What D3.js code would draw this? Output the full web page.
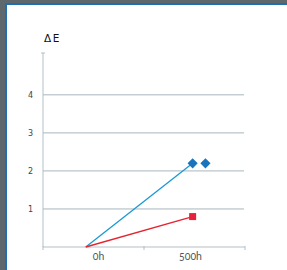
<!DOCTYPE html>
<html>
<head>
<meta charset="utf-8">
<script src="https://cdn.jsdelivr.net/npm/d3@7"></script>
<style>
  body { margin: 0; background: #5e676b; }
  #chart { position: absolute; left: 0; top: 0; }
  .xlab { font-feature-settings: 'onum' 1; font-variant-numeric: oldstyle-nums; }
</style>
</head>
<body>
<div id="chart"></div>
<script>
// categories on the x axis and the y ticks
const categories = ['0h', '500h'];
const yTicks = [1, 2, 3, 4];
// hours / delta E per series
const blueHours = [0, 500];
const blueValues = [0, 2.2];
const blueExtraHours = [560];
const blueExtraValues = [2.2];
const redHours = [0, 500];
const redValues = [0, 0.8];

const W = 287, H = 270;
const margin = { top: 53, right: 42, bottom: 23, left: 43 },
    width = W - margin.left - margin.right,
    height = H - margin.top - margin.bottom;

const svg = d3.select('#chart').append('svg')
    .attr('width', W).attr('height', H);

// white panel with blue edge
svg.append('rect').attr('x', 5).attr('y', 3).attr('width', W - 5).attr('height', H - 3).attr('fill', '#1f6fb0');
svg.append('rect').attr('x', 7).attr('y', 5).attr('width', W - 7).attr('height', H - 5).attr('fill', '#fff');

const g = svg.append('g').attr('transform', 'translate(' + margin.left + ',' + margin.top + ')');

let xBand = d3.scaleBand().domain(categories).range([0, width]);
let xh = d3.scaleLinear().domain([-200, 745]).range([0, width]);
let y = d3.scaleLinear().domain([0, 5.1]).range([height, 0]);

// grid
g.selectAll('.grid').data(yTicks).enter().append('line')
    .attr('x1', 0).attr('x2', width - 1)
    .attr('y1', d => y(d)).attr('y2', d => y(d))
    .attr('stroke', '#a7b6bd').attr('stroke-width', 1);

// y axis
g.append('line').attr('x1', 0).attr('x2', 0).attr('y1', 0).attr('y2', height)
    .attr('stroke', '#b3c0c6').attr('stroke-width', 1);
g.append('line').attr('x1', -2).attr('x2', 2).attr('y1', 0).attr('y2', 0)
    .attr('stroke', '#b3c0c6');
g.selectAll('.ylab').data(yTicks).enter().append('text')
    .attr('x', -10).attr('y', d => y(d)).attr('dy', '0.35em')
    .attr('text-anchor', 'end')
    .attr('font-family', 'DejaVu Sans').attr('font-size', 8)
    .attr('fill', '#444').text(d => d);

// x axis
g.append('line').attr('x1', 0).attr('x2', width).attr('y1', height).attr('y2', height)
    .attr('stroke', '#b3c0c6').attr('stroke-width', 1.2);
const edges = categories.map(c => xBand(c)).concat([width]);
g.selectAll('.xtick').data(edges).enter().append('line')
    .attr('x1', d => d).attr('x2', d => d).attr('y1', height - 1).attr('y2', height + 3)
    .attr('stroke', '#b3c0c6');
g.selectAll('.xlab').data(categories).enter().append('text')
    .attr('class', 'xlab')
    .attr('x', d => xBand(d) + xBand.bandwidth() / 2 + (d === '0h' ? 5 : -4))
    .attr('y', height + 13)
    .attr('text-anchor', 'middle')
    .attr('font-family', 'Lato').attr('font-size', 10.5)
    .attr('fill', '#555').text(d => d);

// y title
svg.append('text').attr('x', 44).attr('y', 42)
    .attr('font-family', 'DejaVu Sans').attr('font-size', 10.5)
    .attr('letter-spacing', 1.5)
    .attr('fill', '#111').text('\u0394E');

// lines
const line = d3.line().x(d => xh(d[0])).y(d => y(d[1]));
g.append('path').datum(blueHours.map((h, i) => [h, blueValues[i]]))
    .attr('d', line).attr('fill', 'none').attr('stroke', '#1a98d5').attr('stroke-width', 1.3);
g.append('path').datum(redHours.map((h, i) => [h, redValues[i]]))
    .attr('d', line).attr('fill', 'none').attr('stroke', '#e42530').attr('stroke-width', 1.3);

// markers
const diamond = d3.symbol().type(d3.symbolDiamond2).size(66);
const blueMarks = [[blueHours[1], blueValues[1]], [blueExtraHours[0], blueExtraValues[0]]];
g.selectAll('.dia').data(blueMarks).enter().append('path')
    .attr('d', diamond)
    .attr('transform', d => 'translate(' + xh(d[0]) + ',' + y(d[1]) + ')')
    .attr('fill', '#1a74bd');
g.append('rect')
    .attr('x', xh(redHours[1]) - 3.5).attr('y', y(redValues[1]) - 3.5)
    .attr('width', 7).attr('height', 7).attr('fill', '#e8203a');
</script>
</body>
</html>
